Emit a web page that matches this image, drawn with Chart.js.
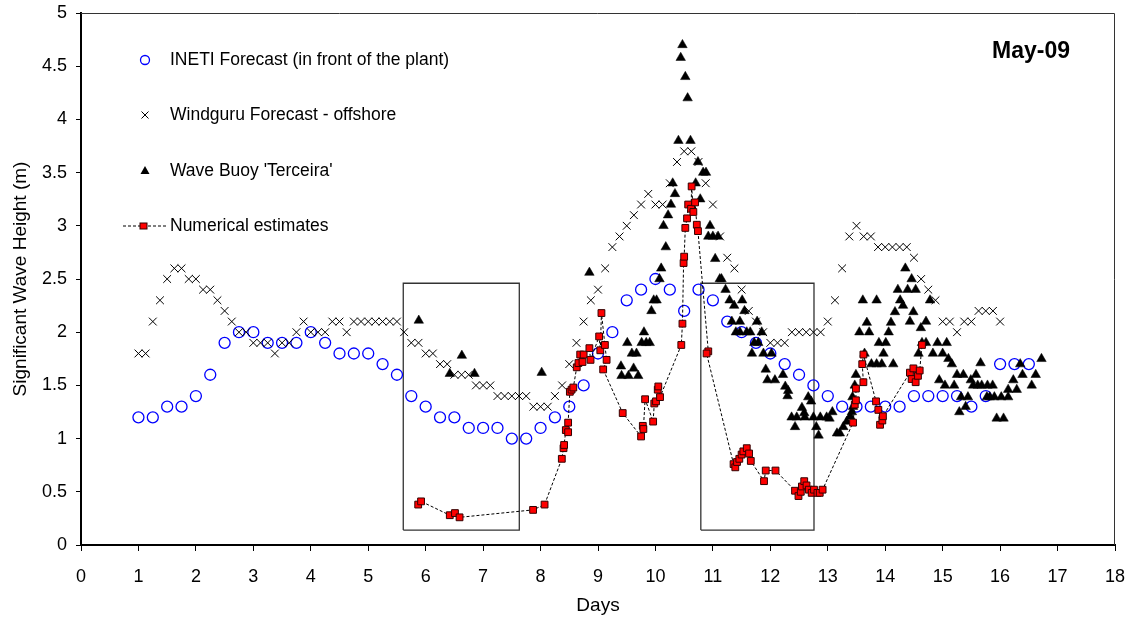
<!DOCTYPE html>
<html>
<head>
<meta charset="utf-8">
<script src="https://cdn.jsdelivr.net/npm/chart.js@4.4.1/dist/chart.umd.min.js"></script>
<style>
  html, body { margin: 0; padding: 0; background: #fff; }
  #wrap { width: 1132px; height: 620px; }
</style>
</head>
<body>
<div id="wrap"><canvas id="c" width="1132" height="620"></canvas></div>
<script>
// INETI forecast (every 6 h)
const inetiDays = [1, 1.25, 1.5, 1.75, 2, 2.25, 2.5, 2.75, 3, 3.25, 3.5, 3.75, 4, 4.25, 4.5, 4.75,
  5, 5.25, 5.5, 5.75, 6, 6.25, 6.5, 6.75, 7, 7.25, 7.5, 7.75, 8, 8.25, 8.5, 8.75,
  9, 9.25, 9.5, 9.75, 10, 10.25, 10.5, 10.75, 11, 11.25, 11.5, 11.75, 12, 12.25, 12.5, 12.75,
  13, 13.25, 13.5, 13.75, 14, 14.25, 14.5, 14.75, 15, 15.25, 15.5, 15.75, 16, 16.25, 16.5];
const inetiHs = [1.2, 1.2, 1.3, 1.3, 1.4, 1.6, 1.9, 2.0, 2.0, 1.9, 1.9, 1.9, 2.0, 1.9, 1.8, 1.8,
  1.8, 1.7, 1.6, 1.4, 1.3, 1.2, 1.2, 1.1, 1.1, 1.1, 1.0, 1.0, 1.1, 1.2, 1.3, 1.5,
  1.8, 2.0, 2.3, 2.4, 2.5, 2.4, 2.2, 2.4, 2.3, 2.1, 2.0, 1.9, 1.8, 1.7, 1.6, 1.5,
  1.4, 1.3, 1.3, 1.3, 1.3, 1.3, 1.4, 1.4, 1.4, 1.4, 1.3, 1.4, 1.7, 1.7, 1.7];

// Windguru offshore forecast (every 3 h)
const windDays = [1, 1.125, 1.25, 1.375, 1.5, 1.625, 1.75, 1.875, 2, 2.125, 2.25, 2.375, 2.5, 2.625, 2.75, 2.875,
  3, 3.125, 3.25, 3.375, 3.5, 3.625, 3.75, 3.875, 4, 4.125, 4.25, 4.375, 4.5, 4.625, 4.75, 4.875,
  5, 5.125, 5.25, 5.375, 5.5, 5.625, 5.75, 5.875, 6, 6.125, 6.25, 6.375, 6.5, 6.625, 6.75, 6.875,
  7, 7.125, 7.25, 7.375, 7.5, 7.625, 7.75, 7.875, 8, 8.125, 8.25, 8.375, 8.5, 8.625, 8.75, 8.875,
  9, 9.125, 9.25, 9.375, 9.5, 9.625, 9.75, 9.875, 10, 10.125, 10.25, 10.375, 10.5, 10.625, 10.75, 10.875,
  11, 11.125, 11.25, 11.375, 11.5, 11.625, 11.75, 11.875, 12, 12.125, 12.25, 12.375, 12.5, 12.625, 12.75, 12.875,
  13, 13.125, 13.25, 13.375, 13.5, 13.625, 13.75, 13.875, 14, 14.125, 14.25, 14.375, 14.5, 14.625, 14.75, 14.875,
  15, 15.125, 15.25, 15.375, 15.5, 15.625, 15.75, 15.875, 16];
const windHs = [1.8, 1.8, 2.1, 2.3, 2.5, 2.6, 2.6, 2.5, 2.5, 2.4, 2.4, 2.3, 2.2, 2.1, 2.0, 2.0,
  1.9, 1.9, 1.9, 1.8, 1.9, 1.9, 2.0, 2.1, 2.0, 2.0, 2.0, 2.1, 2.1, 2.0, 2.1, 2.1,
  2.1, 2.1, 2.1, 2.1, 2.1, 2.0, 1.9, 1.9, 1.8, 1.8, 1.7, 1.7, 1.6, 1.6, 1.6, 1.5,
  1.5, 1.5, 1.4, 1.4, 1.4, 1.4, 1.4, 1.3, 1.3, 1.3, 1.4, 1.5, 1.7, 1.9, 2.1, 2.3,
  2.4, 2.6, 2.8, 2.9, 3.0, 3.1, 3.2, 3.3, 3.2, 3.2, 3.4, 3.6, 3.7, 3.7, 3.6, 3.4,
  3.2, 2.9, 2.7, 2.6, 2.4, 2.2, 2.1, 2.0, 1.9, 1.9, 1.9, 2.0, 2.0, 2.0, 2.0, 2.0,
  2.1, 2.3, 2.6, 2.9, 3.0, 2.9, 2.9, 2.8, 2.8, 2.8, 2.8, 2.8, 2.7, 2.5, 2.4, 2.3,
  2.1, 2.1, 2.0, 2.1, 2.1, 2.2, 2.2, 2.2, 2.1];

// Wave buoy 'Terceira'
const buoyDays = [5.88, 6.42, 6.63, 6.85, 8.02, 8.85, 9.40, 9.41, 9.51, 9.53, 9.59, 9.62, 9.67, 9.70,
  9.76, 9.80, 9.84, 9.90, 9.93, 9.97, 10.02, 10.07, 10.10, 10.14, 10.18, 10.22, 10.27, 10.30, 10.34,
  10.40, 10.44, 10.47, 10.52, 10.56, 10.61, 10.70, 10.74, 10.78, 10.83, 10.88, 10.92, 10.95, 11.00,
  11.04, 11.09, 11.12, 11.15, 11.22, 11.29, 11.33, 11.37, 11.40, 11.47, 11.47, 11.51, 11.55, 11.59,
  11.65, 11.68, 11.72, 11.77, 11.79, 11.85, 11.88, 11.92, 11.95, 12.02, 12.08, 12.22, 12.26, 12.30,
  12.31, 12.37, 12.43, 12.46, 12.55, 12.59, 12.60, 12.66, 12.71, 12.75, 12.80, 12.84, 12.87, 12.98,
  13.03, 13.08, 13.16, 13.21, 13.27, 13.33, 13.39, 13.42, 13.44, 13.43, 13.47, 13.49, 13.55, 13.61,
  13.64, 13.68, 13.72, 13.76, 13.85, 13.85, 13.89, 13.94, 13.97, 14.01, 14.06, 14.10, 14.14, 14.17,
  14.22, 14.26, 14.31, 14.35, 14.39, 14.43, 14.46, 14.49, 14.53, 14.58, 14.62, 14.64, 14.71, 14.71,
  14.78, 14.83, 14.91, 14.94, 15.00, 15.04, 15.07, 15.10, 15.16, 15.20, 15.25, 15.29, 15.32, 15.36,
  15.40, 15.44, 15.49, 15.53, 15.58, 15.61, 15.66, 15.68, 15.77, 15.78, 15.82, 15.87, 15.90, 15.94,
  16.02, 16.06, 16.14, 16.14, 16.23, 16.29, 16.35, 16.39, 16.55, 16.62, 16.72];
const buoyHs = [2.11, 1.61, 1.78, 1.61, 1.62, 2.56, 1.68, 1.59, 1.90, 1.59, 1.80, 1.66, 1.80, 1.59,
  1.90, 2.00, 1.90, 1.90, 2.20, 2.30, 2.30, 2.50, 2.60, 3.00, 2.80, 3.10, 3.20, 3.40, 3.30,
  3.80, 4.58, 4.70, 4.40, 4.20, 3.80, 3.40, 3.60, 3.25, 3.50, 3.50, 2.90, 3.00, 2.90,
  2.69, 2.90, 2.50, 2.50, 2.40, 2.30, 2.10, 2.25, 2.00, 2.10, 2.00, 2.30, 2.20, 2.00,
  2.00, 1.80, 1.90, 2.10, 1.90, 2.00, 1.80, 1.65, 1.55, 1.80, 1.55, 1.60, 1.49, 1.40,
  1.45, 1.20, 1.11, 1.20, 1.29, 1.24, 1.20, 1.39, 1.35, 1.20, 1.11, 1.03, 1.20, 1.20,
  1.19, 1.25, 1.05, 1.05, 1.11, 1.16, 1.21, 1.25, 1.30, 1.39, 1.50, 1.60, 2.00, 2.30,
  1.80, 2.09, 2.00, 1.70, 2.30, 1.70, 1.90, 1.70, 1.80, 1.90, 2.00, 2.09, 1.70, 2.19,
  2.40, 2.30, 2.25, 2.60, 2.40, 2.10, 2.50, 2.19, 2.40, 1.80, 2.04, 1.90, 2.10, 1.90,
  2.30, 1.80, 1.90, 1.55, 1.80, 1.50, 1.90, 1.75, 1.70, 1.50, 1.60, 1.25, 1.39, 1.60,
  1.30, 1.39, 1.55, 1.50, 1.60, 1.50, 1.71, 1.50, 1.39, 1.50, 1.39, 1.50, 1.39, 1.19,
  1.39, 1.19, 1.39, 1.46, 1.55, 1.46, 1.70, 1.60, 1.50, 1.60, 1.75];

// Numerical estimates (joined by dashed line, in this order)
const numDays = [5.87, 5.92, 6.42, 6.51, 6.59, 7.87, 8.07, 8.37, 8.40, 8.41, 8.44, 8.48, 8.48, 8.51,
  8.54, 8.57, 8.63, 8.66, 8.69, 8.73, 8.75, 8.85, 8.87, 9.02, 9.04, 9.06, 9.12, 9.15, 9.09,
  9.43, 9.75, 9.78, 9.79, 9.82, 9.96, 9.98, 10.01, 10.04, 10.05, 10.08, 10.45, 10.47, 10.49, 10.50,
  10.52, 10.55, 10.57, 10.62, 10.63, 10.66, 10.69, 10.72, 10.74, 10.92, 10.89, 11.36, 11.39, 11.42,
  11.46, 11.50, 11.53, 11.59, 11.63, 11.66, 11.89, 11.92, 12.09, 12.43, 12.49, 12.53, 12.55, 12.59,
  12.63, 12.67, 12.72, 12.76, 12.82, 12.86, 12.91, 13.44, 13.47, 13.49, 13.49, 13.62, 13.60, 13.62,
  13.84, 13.88, 13.91, 13.95, 13.96, 14.43, 14.46, 14.49, 14.53, 14.57, 14.60, 14.64];
const numHs = [0.38, 0.41, 0.28, 0.30, 0.26, 0.33, 0.38, 0.81, 0.91, 0.94, 1.08, 1.06, 1.15, 1.44,
  1.46, 1.48, 1.67, 1.71, 1.79, 1.72, 1.79, 1.85, 1.74, 1.96, 1.83, 2.18, 1.88, 1.74, 1.65,
  1.24, 1.02, 1.12, 1.09, 1.37, 1.16, 1.33, 1.35, 1.46, 1.49, 1.39, 1.88, 2.08, 2.65, 2.71,
  2.98, 3.07, 3.20, 3.16, 3.37, 3.13, 3.22, 3.01, 2.95, 1.82, 1.80, 0.76, 0.73, 0.78,
  0.81, 0.85, 0.88, 0.91, 0.86, 0.79, 0.60, 0.70, 0.70, 0.51, 0.46, 0.50, 0.55, 0.60,
  0.56, 0.52, 0.49, 0.52, 0.49, 0.49, 0.52, 1.15, 1.32, 1.36, 1.47, 1.53, 1.70, 1.79,
  1.35, 1.27, 1.13, 1.17, 1.21, 1.62, 1.56, 1.66, 1.53, 1.59, 1.64, 1.88];

// highlighted windows (days from/to, height from/to)
const boxDays = [[5.61, 7.63], [10.79, 12.76]];
const boxHs = [0.14, 2.46];

const legendLabels = ["INETI Forecast (in front of the plant)", "Windguru Forecast - offshore",
  "Wave Buoy 'Terceira'", "Numerical estimates"];

const FONT = "'Liberation Sans', Arial, sans-serif";
const pts = (xs, ys) => xs.map((x, i) => ({ x, y: ys[i] }));

function boxSet(d) {
  const [a, b] = d, [lo, hi] = boxHs;
  return {
    data: [{ x: a, y: lo }, { x: b, y: lo }, { x: b, y: hi }, { x: a, y: hi }, { x: a, y: lo }],
    showLine: true, borderColor: "#333", borderWidth: 1.3, pointRadius: 0, fill: false,
  };
}

// frame, legend and month label
const extras = {
  id: "extras",
  afterDraw(chart) {
    const { ctx, chartArea: a } = chart;
    ctx.save();
    ctx.strokeStyle = "#333";
    ctx.lineWidth = 1;
    ctx.beginPath();
    ctx.moveTo(a.left, a.top + 0.5); ctx.lineTo(a.right - 0.5, a.top + 0.5); ctx.lineTo(a.right - 0.5, a.bottom);
    ctx.stroke();

    const mx = 145, tx = 170, rows = [60, 115, 171, 226];
    // circle
    ctx.strokeStyle = "#0000ff"; ctx.lineWidth = 1.3;
    ctx.beginPath(); ctx.arc(mx, rows[0], 4.5, 0, Math.PI * 2); ctx.stroke();
    // cross
    ctx.strokeStyle = "#000"; ctx.lineWidth = 1;
    ctx.beginPath();
    ctx.moveTo(mx - 3.5, rows[1] - 3.5); ctx.lineTo(mx + 3.5, rows[1] + 3.5);
    ctx.moveTo(mx + 3.5, rows[1] - 3.5); ctx.lineTo(mx - 3.5, rows[1] + 3.5);
    ctx.stroke();
    // triangle
    ctx.fillStyle = "#000";
    ctx.beginPath();
    ctx.moveTo(mx, rows[2] - 5); ctx.lineTo(mx + 4.5, rows[2] + 3); ctx.lineTo(mx - 4.5, rows[2] + 3);
    ctx.closePath(); ctx.fill();
    // dashed line + square
    ctx.setLineDash([3, 2]);
    ctx.beginPath(); ctx.moveTo(123, rows[3]); ctx.lineTo(166, rows[3]); ctx.stroke();
    ctx.setLineDash([]);
    ctx.fillStyle = "#ff0000"; ctx.fillRect(140, rows[3] - 3, 7, 6);
    ctx.strokeStyle = "#300"; ctx.strokeRect(140, rows[3] - 3, 7, 6);

    ctx.fillStyle = "#000";
    ctx.font = "17.5px " + FONT;
    ctx.textBaseline = "middle";
    legendLabels.forEach((t, i) => ctx.fillText(t, tx, rows[i]));

    ctx.font = "bold 23px " + FONT;
    ctx.textAlign = "center";
    ctx.fillText("May-09", 1031, 52);
    ctx.restore();
  },
};

new Chart(document.getElementById("c"), {
  type: "scatter",
  data: {
    datasets: [
      {
        data: pts(numDays, numHs), showLine: true, borderColor: "#000", borderWidth: 1,
        borderDash: [3, 2], pointStyle: "rect", pointRadius: 4.8,
        pointBackgroundColor: "#ff0000", pointBorderColor: "#300", pointBorderWidth: 1,
      },
      {
        data: pts(buoyDays, buoyHs), pointStyle: "triangle", pointRadius: 5.5,
        backgroundColor: "#000", borderColor: "#000", borderWidth: 0.5,
      },
      {
        data: pts(windDays, windHs), pointStyle: "crossRot", pointRadius: 5.5,
        borderColor: "#000", borderWidth: 1,
      },
      {
        data: pts(inetiDays, inetiHs), pointStyle: "circle", pointRadius: 5.5,
        borderColor: "#0000ff", backgroundColor: "rgba(0,0,0,0)", borderWidth: 1.3,
      },
      boxSet(boxDays[0]),
      boxSet(boxDays[1]),
    ],
  },
  options: {
    responsive: false,
    animation: false,
    devicePixelRatio: 1,
    layout: { padding: { top: 13, right: 17, left: 0, bottom: 0 } },
    plugins: { legend: { display: false }, tooltip: { enabled: false } },
    scales: {
      x: {
        type: "linear", min: 0, max: 18,
        afterFit: s => { s.height = 75; s.paddingLeft = 0; s.paddingRight = 0; },
        ticks: { stepSize: 1, color: "#000", padding: 15, font: { family: FONT, size: 18 } },
        grid: { drawOnChartArea: false, drawTicks: true, tickLength: 6, color: "#000", tickWidth: 1 },
        border: { color: "#000", width: 2 },
        title: { display: true, text: "Days", color: "#000", font: { family: FONT, size: 19 }, padding: { top: 0, bottom: 3 } },
      },
      y: {
        min: 0, max: 5,
        afterFit: s => { s.width = 81; s.paddingTop = 0; s.paddingBottom = 0; },
        ticks: { stepSize: 0.5, color: "#000", padding: 9, font: { family: FONT, size: 18 }, callback: v => String(v) },
        grid: { drawOnChartArea: false, drawTicks: true, tickLength: 5, color: "#000", tickWidth: 1 },
        border: { color: "#000", width: 2 },
        title: { display: true, text: "Significant Wave Height (m)", color: "#000", font: { family: FONT, size: 19 }, padding: { top: 9, bottom: 0 } },
      },
    },
  },
  plugins: [extras],
});
</script>
</body>
</html>
